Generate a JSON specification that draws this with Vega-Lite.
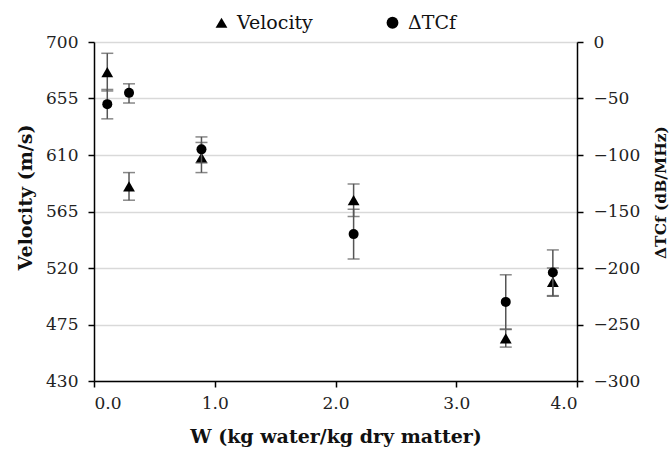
{
  "$schema": "https://vega.github.io/schema/vega-lite/v6.json",
  "width": 483,
  "height": 339,
  "autosize": {"type": "none"},
  "padding": {"left": 94, "top": 42, "right": 93, "bottom": 69},
  "background": "white",
  "config": {
    "view": {"stroke": null},
    "font": "DejaVu Serif",
    "axis": {
      "labelFont": "DejaVu Serif",
      "titleFont": "DejaVu Serif",
      "labelFontSize": 17,
      "titleFontSize": 18,
      "titleFontWeight": "bold",
      "labelColor": "#222222",
      "titleColor": "#111111",
      "domainColor": "#000000",
      "tickColor": "#000000",
      "domainWidth": 1.5,
      "tickWidth": 1.5,
      "tickSize": 6
    },
    "legend": {"labelFont": "DejaVu Serif"}
  },
  "datasets": {
    "vel": [
      {"x": 0.11, "value": 676, "lo": 661, "hi": 691, "series": "Velocity"},
      {"x": 0.29, "value": 585, "lo": 574, "hi": 596, "series": "Velocity"},
      {"x": 0.89, "value": 608, "lo": 596, "hi": 620, "series": "Velocity"},
      {"x": 2.15, "value": 574, "lo": 561, "hi": 587, "series": "Velocity"},
      {"x": 3.41, "value": 464, "lo": 457, "hi": 471, "series": "Velocity"},
      {"x": 3.8, "value": 509, "lo": 498, "hi": 520, "series": "Velocity"}
    ],
    "tcf": [
      {"x": 0.11, "value": -55, "lo": -68, "hi": -42, "series": "ΔTCf"},
      {"x": 0.29, "value": -45, "lo": -54, "hi": -37, "series": "ΔTCf"},
      {"x": 0.89, "value": -95, "lo": -107, "hi": -84, "series": "ΔTCf"},
      {"x": 2.15, "value": -170, "lo": -192, "hi": -148, "series": "ΔTCf"},
      {"x": 3.41, "value": -230, "lo": -254, "hi": -206, "series": "ΔTCf"},
      {"x": 3.8, "value": -204, "lo": -225, "hi": -184, "series": "ΔTCf"}
    ]
  },
  "layer": [
    {
      "data": {"name": "vel"},
      "layer": [
        {
          "mark": {"type": "errorbar", "ticks": {"size": 12}, "color": "#555555", "thickness": 1.5},
          "encoding": {
            "x": {"field": "x", "type": "quantitative", "scale": {"domain": [0, 4], "nice": false}, "title": "W (kg water/kg dry matter)"},
            "y": {"field": "lo", "type": "quantitative", "scale": {"domain": [430, 700], "nice": false, "zero": false}, "title": "Velocity  (m/s)"},
            "y2": {"field": "hi"}
          }
        },
        {
          "mark": {"type": "point", "filled": true, "color": "black", "opacity": 1, "size": 140},
          "encoding": {
            "x": {"field": "x", "type": "quantitative", "scale": {"domain": [0, 4], "nice": false},
              "axis": {"values": [0, 1, 2, 3, 4], "format": ".1f", "grid": false, "labelPadding": 8, "titlePadding": 16, "titleFontSize": 19},
              "title": "W (kg water/kg dry matter)"},
            "y": {"field": "value", "type": "quantitative", "scale": {"domain": [430, 700], "nice": false, "zero": false},
              "axis": {"values": [430, 475, 520, 565, 610, 655, 700], "grid": true, "gridColor": "#d9d9d9", "gridWidth": 1.5, "labelPadding": 10, "titleX": -69, "titleY": 155, "titleAngle": 270, "titleBaseline": "middle", "titleAlign": "center", "titleFontSize": 19},
              "title": "Velocity  (m/s)"},
            "shape": {"field": "series", "type": "nominal",
              "scale": {"domain": ["Velocity", "ΔTCf"], "range": ["triangle-up", "circle"]},
              "legend": {"orient": "none", "legendX": 118, "legendY": -29, "direction": "horizontal", "title": null,
                "labelFont": "DejaVu Serif", "labelFontSize": 19, "labelColor": "#111111",
                "symbolFillColor": "black", "symbolStrokeColor": "black", "symbolSize": 140, "symbolOpacity": 1,
                "columnPadding": 70, "labelOffset": 6}}
          }
        }
      ]
    },
    {
      "data": {"name": "tcf"},
      "layer": [
        {
          "mark": {"type": "errorbar", "ticks": {"size": 12}, "color": "#555555", "thickness": 1.5},
          "encoding": {
            "x": {"field": "x", "type": "quantitative", "scale": {"domain": [0, 4], "nice": false}, "title": "W (kg water/kg dry matter)"},
            "y": {"field": "lo", "type": "quantitative", "scale": {"domain": [-300, 0], "nice": false, "zero": false}, "title": "ΔTCf (dB/MHz)"},
            "y2": {"field": "hi"}
          }
        },
        {
          "mark": {"type": "point", "filled": true, "color": "black", "opacity": 1, "size": 100, "shape": "circle"},
          "encoding": {
            "x": {"field": "x", "type": "quantitative", "scale": {"domain": [0, 4], "nice": false}, "title": "W (kg water/kg dry matter)"},
            "y": {"field": "value", "type": "quantitative", "scale": {"domain": [-300, 0], "nice": false, "zero": false},
              "axis": {"orient": "right", "values": [-300, -250, -200, -150, -100, -50, 0], "grid": false, "labelPadding": 10, "titleX": 83, "titleY": 150, "titleAngle": 270, "titleBaseline": "middle", "titleAlign": "center", "titleFontSize": 15.5},
              "title": "ΔTCf (dB/MHz)"},
            "shape": {"field": "series", "type": "nominal"}
          }
        }
      ]
    }
  ],
  "resolve": {"scale": {"y": "independent"}}
}
